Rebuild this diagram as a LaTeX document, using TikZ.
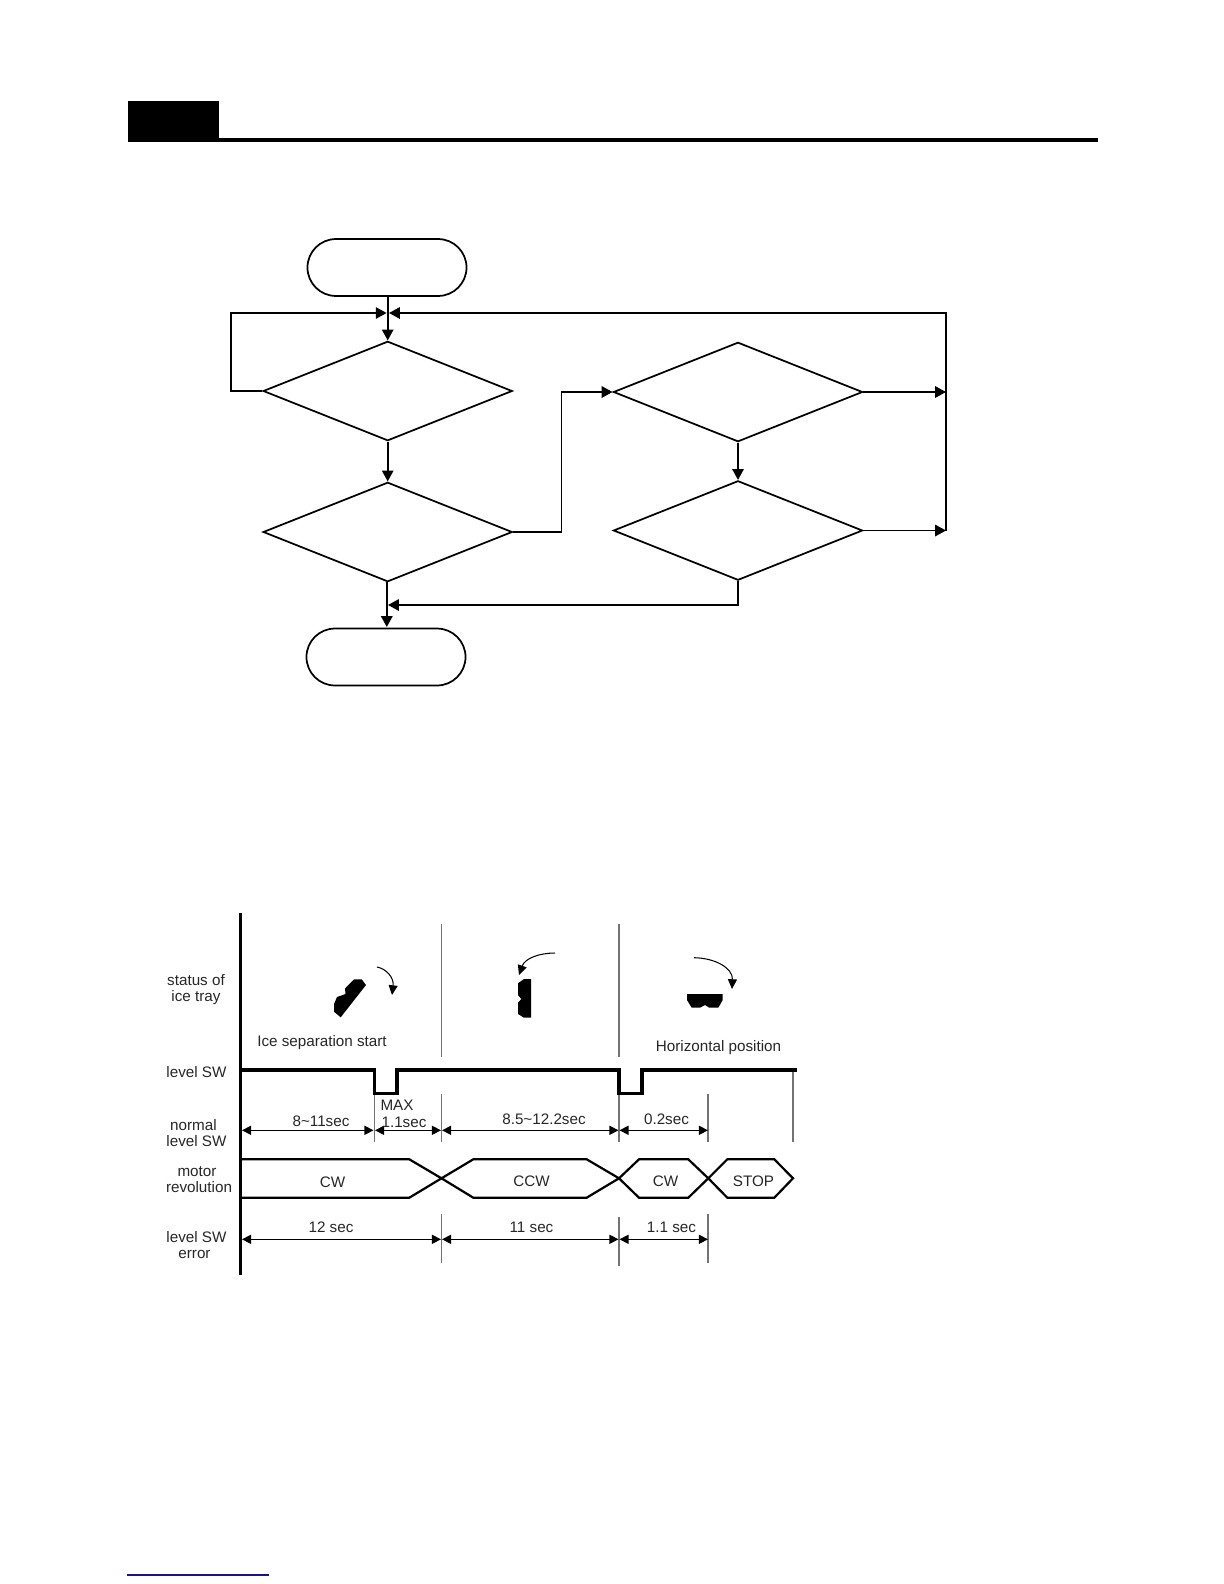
\documentclass[tikz,border=0pt]{standalone}
\usepackage{fontspec}
\setmainfont{Liberation Sans}
\usetikzlibrary{shapes.geometric,shapes.misc,arrows.meta}
\definecolor{ink}{HTML}{262626}
\definecolor{footblue}{HTML}{14148C}
\tikzset{
  flowline/.style={line width=1.25bp,black},
  flowarrow/.style={flowline,-{Triangle[length=7.8bp,width=8.2bp]}},
  dec/.style={draw=black,line width=1.25bp,diamond,inner sep=0pt,aspect=2.5,minimum width=179.4bp,minimum height=71.6bp},
  term/.style={draw=black,line width=1.25bp,rounded rectangle,inner sep=0pt,minimum width=114.5bp,minimum height=41bp},
  lab/.style={font=\fontsize{11}{12}\selectfont,text=ink,inner sep=0pt},
  guide/.style={line width=0.75bp,draw=black!55},
  dim/.style={line width=0.8bp,black,{Triangle[length=6.5bp,width=6.5bp]}-{Triangle[length=6.5bp,width=6.5bp]}},
  sig/.style={line width=2.6bp,black,line join=miter},
  motor/.style={line width=1.6bp,black,line join=miter},
  swing/.style={line width=0.75bp,black,-{Triangle[length=7bp,width=6.5bp]}},
  tray/.style={fill=black,draw=none}
}
\begin{document}
\begin{tikzpicture}[x=0.72bp,y=-0.72bp]
\useasboundingbox (0,0) rectangle (1224,1584);
% header
\fill[black] (128,101) rectangle (219,142);
\fill[black] (219,138) rectangle (1098,142);
% flowchart nodes
\node[term] (start) at (387,267.5) {};
\node[dec] (d1) at (387.7,391) {};
\node[dec] (d2) at (387.7,532) {};
\node[dec] (d3) at (738,392) {};
\node[dec] (d4) at (738,530.5) {};
\node[term] (stop) at (386,657) {};
\coordinate (jc) at (387.7,313);
\coordinate (jl) at (386.6,313);
\coordinate (jr) at (389,313);
\coordinate (lc) at (231,313);
\coordinate (ld) at (231,391);
\coordinate (rb) at (946,392);
\coordinate (rc) at (946,530.5);
\coordinate (rt) at (946,313);
\coordinate (bend1) at (561.5,532);
\coordinate (bend2) at (561.5,392);
\coordinate (m2) at (738,605);
\coordinate (m1) at (388,605);
\coordinate (d2b) at (386.8,582);
\coordinate (stopt) at (386.8,627);
% flowchart connectors
\draw[flowarrow] (start.south -| jc) -- (d1.north);
\draw[flowarrow] (d1.south) -- (d2.north);
\draw[flowarrow] (d1.west) -- (ld) -- (lc) -- (jl);
\draw[flowarrow] (d2.east) -- (bend1) -- (bend2) -- (d3.west);
\draw[flowarrow] (d3.south) -- (d4.north);
\draw[flowarrow] (d3.east) -- (rb);
\draw[flowarrow] (d4.east) -- (rc);
\draw[flowarrow] (rc) -- (rt) -- (jr);
\draw[flowarrow] (d4.south) -- (m2) -- (m1);
\draw[flowarrow] (d2b) -- (stopt);
% timing chart: axis and guides
\draw[line width=1.5bp,black] (240.5,913) -- (240.5,1275);
\draw[guide] (441.5,924) -- (441.5,1057);
\draw[guide] (441.5,1094) -- (441.5,1142);
\draw[guide] (441.5,1214) -- (441.5,1263);
\draw[guide] (619,924) -- (619,1057);
\draw[guide] (619,1094) -- (619,1142);
\draw[guide] (619,1217) -- (619,1266);
\draw[guide] (708,1094) -- (708,1142);
\draw[guide] (708,1214) -- (708,1263);
\draw[guide] (793,1072) -- (793,1142);
\draw[guide] (374.3,1095) -- (374.3,1142);
% level SW signal
\draw[sig] (241,1070) -- (374.5,1070) -- (374.5,1093.5) -- (397,1093.5) -- (397,1070) -- (619,1070) -- (619,1093.5) -- (641.7,1093.5) -- (641.7,1070) -- (797,1070);
% dimension lines
\coordinate (a0) at (242,1130.3);
\coordinate (a1) at (373.5,1130.3);
\coordinate (a2) at (375,1130.3);
\coordinate (a3) at (441,1130.3);
\coordinate (a4) at (442,1130.3);
\coordinate (a5) at (618.5,1130.3);
\coordinate (a6) at (619.5,1130.3);
\coordinate (a7) at (708,1130.3);
\coordinate (b0) at (242,1239.3);
\coordinate (b1) at (441,1239.3);
\coordinate (b2) at (442,1239.3);
\coordinate (b3) at (618.5,1239.3);
\coordinate (b4) at (619.5,1239.3);
\coordinate (b5) at (708,1239.3);
\draw[dim] (a0) -- (a1);
\draw[dim] (a2) -- (a3);
\draw[dim] (a4) -- (a5);
\draw[dim] (a6) -- (a7);
\draw[dim] (b0) -- (b1);
\draw[dim] (b2) -- (b3);
\draw[dim] (b4) -- (b5);
% motor revolution
\draw[motor] (241,1159.3) -- (409.3,1159.3) -- (441.5,1178.3) -- (473.3,1197.7) -- (586.7,1197.7) -- (619,1178.3) -- (639,1159.3) -- (688.3,1159.3) -- (708.3,1178.3) -- (727.3,1197.7) -- (774.3,1197.7) -- (793,1178.3) -- (774.3,1159.3) -- (727.3,1159.3) -- (708.3,1178.3) -- (688.3,1197.7) -- (639,1197.7) -- (619,1178.3) -- (586.7,1159.3) -- (473.3,1159.3) -- (441.5,1178.3) -- (409.3,1197.7) -- (241,1197.7);
% ice tray positions
\fill[tray] (366,985) -- (361.7,979.3) -- (354,979.3) -- (345,988.5) -- (345.5,994) -- (337,997) -- (334,1004) -- (334,1011.7) -- (340.7,1017.3) -- cycle;
\fill[tray] (531,979) -- (524,979) -- (518,983.3) -- (518,995) -- (521.3,999) -- (518,1002.7) -- (518,1014) -- (524,1017.7) -- (531,1017.7) -- cycle;
\fill[tray] (687,994) -- (722.7,994) -- (722.7,1000) -- (718.3,1007.7) -- (709.3,1007.7) -- (705,1005) -- (700,1007.7) -- (691.7,1007.7) -- (687,1000) -- cycle;
\draw[swing] (377,967) .. controls (387,969) and (394,978) .. (392,995);
\draw[swing] (555,953) .. controls (540,953) and (525,958) .. (519,975);
\draw[swing] (694,957.7) .. controls (715,958) and (733,968) .. (732,989);
% labels
\node[lab] (t1) at (196,980) {status of};
\node[lab] (t2) at (196,997.5) {ice tray};
\node[lab] (t3) at (196.5,1072.5) {level SW};
\node[lab] (t4) at (193.5,1125.5) {normal};
\node[lab] (t5) at (196.5,1141.5) {level SW};
\node[lab] (t6) at (197,1171.5) {motor};
\node[lab] (t7) at (199,1187) {revolution};
\node[lab] (t8) at (196.5,1237.5) {level SW};
\node[lab] (t9) at (194.5,1254) {error};
\node[lab] (t10) at (322,1042.5) {Ice separation start};
\node[lab] (t11) at (321,1121.5) {8\textasciitilde11sec};
\node[lab] (t12) at (397,1105.5) {MAX};
\node[lab] (t13) at (404,1122.5) {1.1sec};
\node[lab] (t14) at (331,1227.5) {12 sec};
\node[lab] (t15) at (332.5,1182) {CW};
\node[lab] (t16) at (531.5,1181) {CCW};
\node[lab] (t17) at (665.5,1181) {CW};
\node[lab] (t18) at (753.5,1181) {STOP};
\node[lab] (t19) at (544,1119.5) {8.5\textasciitilde12.2sec};
\node[lab] (t20) at (666.5,1119.5) {0.2sec};
\node[lab] (t21) at (531.5,1227.5) {11 sec};
\node[lab] (t22) at (671.5,1227.5) {1.1 sec};
\node[lab] (t23) at (718.5,1047.5) {Horizontal position};
% footer rule
\draw[footblue,line width=0.75bp] (127,1575) -- (269,1575);
\end{tikzpicture}
\end{document}
